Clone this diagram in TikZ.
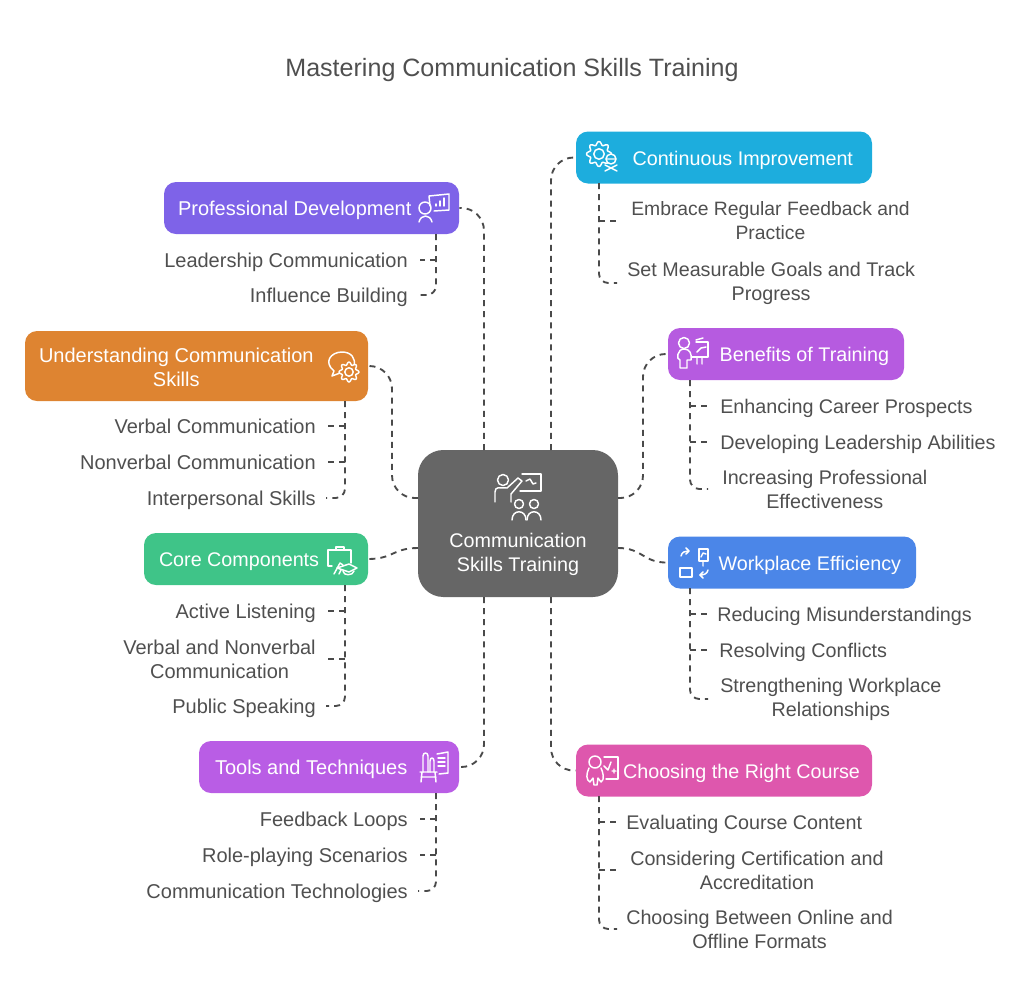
\documentclass[tikz,border=0pt]{standalone}
\usepackage{fontspec}
\setmainfont{Liberation Sans}
\usepackage{tikz}

\definecolor{inktext}{HTML}{4F4F4F}
\definecolor{inkline}{HTML}{4A4A4A}
\definecolor{hubgray}{HTML}{666666}
\definecolor{contblue}{HTML}{1DADDD}
\definecolor{devviolet}{HTML}{7E63E8}
\definecolor{underorange}{HTML}{DE8431}
\definecolor{coregreen}{HTML}{3FC488}
\definecolor{toolpurple}{HTML}{B95DE5}
\definecolor{benepurple}{HTML}{B65BE0}
\definecolor{workblue}{HTML}{4B86E8}
\definecolor{coursepink}{HTML}{DE57AD}

\tikzset{
  box/.style={rounded corners=9pt,text=white,inner xsep=10.5pt,inner ysep=0pt,minimum height=39pt,
              font=\fontsize{14.8}{18}\selectfont},
  boxone/.style={box,text height=12.7pt,text depth=1pt},
  bigtext/.style={font=\fontsize{15}{18}\selectfont},
  leaf/.style={text=inktext,inner xsep=9pt,inner ysep=1pt,align=center,bigtext},
  leafone/.style={leaf,text height=12pt,text depth=1pt},
  rightleaf/.style={leaf,font=\fontsize{14.8}{18}\selectfont},
  rightone/.style={leafone,font=\fontsize{14.8}{18}\selectfont},
  conn/.style={draw=inkline,line width=1.4pt,dash pattern=on 4.5pt off 3.8pt},
  trunk/.style={conn,rounded corners=7pt},
  arm/.style={conn,rounded corners=17pt},
  icon/.style={draw=white,line width=1.1pt,line cap=round,line join=round},
}
% flower shaped gear, centre x, centre y, radius, fill
\newcommand{\gearshape}[4]{
  \draw[icon,fill=#4] plot[domain=0:360,samples=81] ({#1+#3*(0.86+0.14*cos(8*\x))*cos(\x)},{#2+#3*(0.86+0.14*cos(8*\x))*sin(\x)}) -- cycle;
  \draw[icon] (#1,#2) circle ({0.42*#3});
}

\begin{document}
\begin{tikzpicture}[x=0.75pt,y=-0.75pt]
  \useasboundingbox (0,0) rectangle (1024,1000);

  \node[text=inktext,font=\fontsize{18.8}{22}\selectfont] (title) at (512,70) {Mastering Communication Skills Training};

  % hub
  \node[fill=hubgray,rounded corners=19pt,minimum width=150pt,minimum height=110.25pt,inner sep=0pt,
        text=white,align=center,font=\fontsize{14.8}{18}\selectfont] (hub) at (518,523.5)
        {\mbox{}\\[38.5pt]Communication\\Skills Training};
  \coordinate (hubnw) at (484,450);
  \coordinate (hubne) at (551,450);
  \coordinate (hubsw) at (484,597);
  \coordinate (hubse) at (551,597);
  \coordinate (hubwa) at (418,498);
  \coordinate (hubwb) at (418,548);
  \coordinate (hubea) at (618,498);
  \coordinate (hubeb) at (618,548);

  % branch boxes
  \node[boxone,fill=contblue,minimum width=222pt,inner xsep=14.25pt,text width=193.5pt,align=flush right] (cont) at (724,157.5) {Continuous Improvement};
  \node[boxone,fill=devviolet,bigtext,minimum width=221.25pt,text width=200.25pt,align=flush left] (dev) at (311.5,208) {Professional Development};
  \node[box,fill=underorange,bigtext,minimum width=257.25pt,minimum height=52.5pt,text width=236.25pt,align=flush left,text height=20pt,text depth=6.6pt] (under) at (196.5,366)
        {\begin{tabular}{@{}c@{}}Understanding Communication\\Skills\end{tabular}};
  \node[boxone,fill=coregreen,minimum width=168pt,inner xsep=11.25pt,text width=145.5pt,align=flush left] (core) at (256,559) {Core Components};
  \node[boxone,fill=toolpurple,bigtext,minimum width=195pt,inner xsep=12pt,text width=171pt,align=flush left] (tools) at (329,767) {Tools and Techniques};
  \node[boxone,fill=benepurple,minimum width=177pt,inner xsep=11.25pt,text width=154.5pt,align=flush right] (bene) at (786,354) {Benefits of Training};
  \node[boxone,fill=workblue,minimum width=186pt,inner xsep=11.25pt,text width=163.5pt,align=flush right] (work) at (792,562.5) {Workplace Efficiency};
  \node[boxone,fill=coursepink,minimum width=222pt,inner xsep=9pt,text width=204pt,align=flush right] (course) at (724,770.5) {Choosing the Right Course};

  % hub to boxes
  \draw[arm] (hubnw) |- (dev.east);
  \draw[arm] (hubne) |- (cont.west);
  \draw[arm] (hubwa) -| (392,430) |- (under.east);
  \draw[conn] (hubwb) .. controls (393,548) and (393,559) .. (core.east);
  \draw[arm] (hubsw) |- (tools.east);
  \draw[arm] (hubea) -| (643,430) |- (bene.west);
  \draw[conn] (hubeb) .. controls (643,548) and (643,563) .. (work.west);
  \draw[arm] (hubse) |- (course.west);

  % leaves, left side
  \node[leafone,anchor=east] (lead) at (420,260) {Leadership Communication};
  \node[leafone,anchor=east,inner xsep=7.5pt] (infl) at (418,295) {Influence Building};
  \node[leafone,anchor=east] (verb) at (328,426) {Verbal Communication};
  \node[leafone,anchor=east] (nonv) at (328,462) {Nonverbal Communication};
  \node[leafone,anchor=east,inner xsep=7.5pt] (inter) at (326,498) {Interpersonal Skills};
  \node[leafone,anchor=east] (acti) at (328,611) {Active Listening};
  \node[leaf,anchor=east] (vern) at (328,659) {Verbal and Nonverbal\\Communication};
  \node[leafone,anchor=east,inner xsep=7.5pt] (publ) at (326,706) {Public Speaking};
  \node[leafone,anchor=east] (feed) at (420,819) {Feedback Loops};
  \node[leafone,anchor=east] (role) at (420,855) {Role-playing Scenarios};
  \node[leafone,anchor=east,inner xsep=7.5pt] (tech) at (418,891) {Communication Technologies};

  % leaves, right side
  \node[rightleaf,font=\fontsize{14.5}{18}\selectfont,anchor=west,inner xsep=10.5pt] (embr) at (617,221) {Embrace Regular Feedback and\\Practice};
  \node[rightleaf,anchor=west,inner xsep=7.5pt] (goal) at (617,283) {Set Measurable Goals and Track\\Progress};
  \node[rightone,anchor=west] (care) at (708,406) {Enhancing Career Prospects};
  \node[rightone,anchor=west] (abil) at (708,442) {Developing Leadership Abilities};
  \node[rightleaf,anchor=west,inner xsep=10.5pt] (effe) at (708,489) {Increasing Professional\\Effectiveness};
  \node[rightone,anchor=west,inner xsep=6.75pt] (misu) at (708,614) {Reducing Misunderstandings};
  \node[rightone,anchor=west,inner xsep=8.25pt] (conf) at (708,650) {Resolving Conflicts};
  \node[rightleaf,anchor=west] (rela) at (708,699) {Strengthening Workplace\\Relationships};
  \node[rightone,anchor=west,inner xsep=6.75pt] (eval) at (617,822) {Evaluating Course Content};
  \node[rightleaf,anchor=west,inner xsep=9.75pt] (cert) at (617,870) {Considering Certification and\\Accreditation};
  \node[rightleaf,anchor=west,inner xsep=6.75pt] (form) at (617,929) {Choosing Between Online and\\Offline Formats};

  % trunks with stubs
  \coordinate (devt) at (436,234);
  \draw[trunk] (devt) |- (infl.east);
  \draw[conn] (devt |- lead.east) -- (lead.east);
  \coordinate (undert) at (345,401);
  \draw[trunk] (undert) |- (inter.east);
  \draw[conn] (undert |- verb.east) -- (verb.east);
  \draw[conn] (undert |- nonv.east) -- (nonv.east);
  \coordinate (coret) at (345,585);
  \draw[trunk] (coret) |- (publ.east);
  \draw[conn] (coret |- acti.east) -- (acti.east);
  \draw[conn] (coret |- vern.east) -- (vern.east);
  \coordinate (toolst) at (436,793);
  \draw[trunk] (toolst) |- (tech.east);
  \draw[conn] (toolst |- feed.east) -- (feed.east);
  \draw[conn] (toolst |- role.east) -- (role.east);
  \coordinate (contt) at (599,183);
  \draw[trunk] (contt) |- (goal.west);
  \draw[conn] (contt |- embr.west) -- (embr.west);
  \coordinate (benet) at (690,380);
  \draw[trunk] (benet) |- (effe.west);
  \draw[conn] (benet |- care.west) -- (care.west);
  \draw[conn] (benet |- abil.west) -- (abil.west);
  \coordinate (workt) at (690,588);
  \draw[trunk] (workt) |- (rela.west);
  \draw[conn] (workt |- misu.west) -- (misu.west);
  \draw[conn] (workt |- conf.west) -- (conf.west);
  \coordinate (courset) at (599,796);
  \draw[trunk] (courset) |- (form.west);
  \draw[conn] (courset |- eval.west) -- (eval.west);
  \draw[conn] (courset |- cert.west) -- (cert.west);

  % hub icon
  \draw[icon] (503,480) circle (5.5);
  \draw[icon] (495,502) -- (495,492) .. controls (495,486) and (500,488) .. (507,488) -- (518,478) -- (522,481) -- (511,494) -- (511,502);
  \draw[icon] (522,474) -- (541,474) -- (541,491) -- (520,491);
  \draw[icon] (526,481) -- (530,479) -- (533,484) -- (536,483);
  \draw[icon] (519,504) circle (4.5) (534,504) circle (4.5);
  \draw[icon] (512,520) .. controls (512,509) and (526,509) .. (526,520);
  \draw[icon] (527,520) .. controls (527,509) and (541,509) .. (541,520);

  % continuous improvement icon
  \gearshape{599}{154}{12.5}{contblue}
  \draw[icon,fill=contblue] (611,159) circle (5);
  \draw[icon] (606,159) -- (616,159) (605,171) -- (617,165) (617,171) -- (605,165);
  % professional development icon
  \draw[icon] (430,206) -- (429,196) -- (449,194) -- (449,210) -- (434,211);
  \draw[icon] (436,206) -- (436,204) (440,206) -- (440,201) (444,206) -- (444,198);
  \draw[icon] (425,208) circle (6);
  \draw[icon] (419,222) .. controls (421,214) and (430,214) .. (432,222);
  % understanding icon
  \draw[icon] (332,376) -- (334,371) .. controls (323,362) and (331,352) .. (342,352) .. controls (351,352) and (356,358) .. (354,366) -- (340,373) -- cycle;
  \gearshape{349}{372}{10}{underorange}
  % core components icon
  \draw[icon] (332,566) -- (328,566) -- (328,550) -- (351,550) -- (351,563);
  \draw[icon] (336,550) -- (336,547) -- (344,547) -- (344,550);
  \draw[icon] (334,574) -- (340,563) -- (343,565) (339,574) -- (343,566);
  \draw[icon,fill=coregreen] (337,568) -- (349,564) -- (357,568) -- (349,572) -- cycle;
  \draw[icon] (343,571) .. controls (343,576) and (353,576) .. (354,571);
  % tools and techniques icon
  \draw[icon] (423,772) -- (423,756) .. controls (423,752) and (428,752) .. (428,756) -- (428,772);
  \draw[icon] (430,772) -- (430,761) .. controls (430,757) and (434,757) .. (434,761) -- (434,772);
  \draw[icon] (420,772) -- (437,772) (422,772) -- (421,782) (435,772) -- (436,782) (421,777) -- (436,777);
  \draw[icon] (437,754) -- (448,752) -- (448,773) -- (439,774);
  \draw[icon] (438,758) -- (445,758) (438,762) -- (445,762) (438,766) -- (445,766);
  % benefits icon
  \draw[icon] (684,343) circle (5.5);
  \draw[icon] (680,368) -- (680,360) .. controls (676,360) and (677,349) .. (684,349) .. controls (690,349) and (692,354) .. (691,360) -- (687,360) -- (687,368) -- cycle;
  \draw[icon] (696,342) -- (708,342) -- (708,357) -- (692,357);
  \draw[icon] (697,352) -- (701,348) -- (706,347) (697,357) -- (697,364) (702,357) -- (702,364) (696,340) -- (703,338);
  % workplace icon
  \draw[icon] (681,556) .. controls (682,552) and (685,551) .. (688,551);
  \draw[icon] (686,548) -- (689,551) -- (686,554);
  \draw[icon] (699,549) -- (708,549) -- (708,561) -- (699,561) -- cycle;
  \draw[icon] (701,557) -- (703,553) -- (706,554) (703,561) -- (703,566);
  \draw[icon] (680,568) -- (692,568) -- (692,577) -- (680,577) -- cycle;
  \draw[icon] (708,570) .. controls (707,574) and (704,575) .. (700,575);
  \draw[icon] (703,572) -- (700,575) -- (703,578);
  % course icon
  \draw[icon] (595,762) circle (6);
  \draw[icon] (589,768) .. controls (586,774) and (586,780) .. (590,782) -- (593,778) -- (594,785) -- (597,785) -- (598,778) -- (601,782) .. controls (605,780) and (603,772) .. (601,768);
  \draw[icon] (604,757) -- (618,757) -- (618,779) -- (606,779);
  \draw[icon] (604,766) -- (608,770) -- (611,762) (612,771) -- (616,771) (614,769) -- (614,773);
\end{tikzpicture}
\end{document}
